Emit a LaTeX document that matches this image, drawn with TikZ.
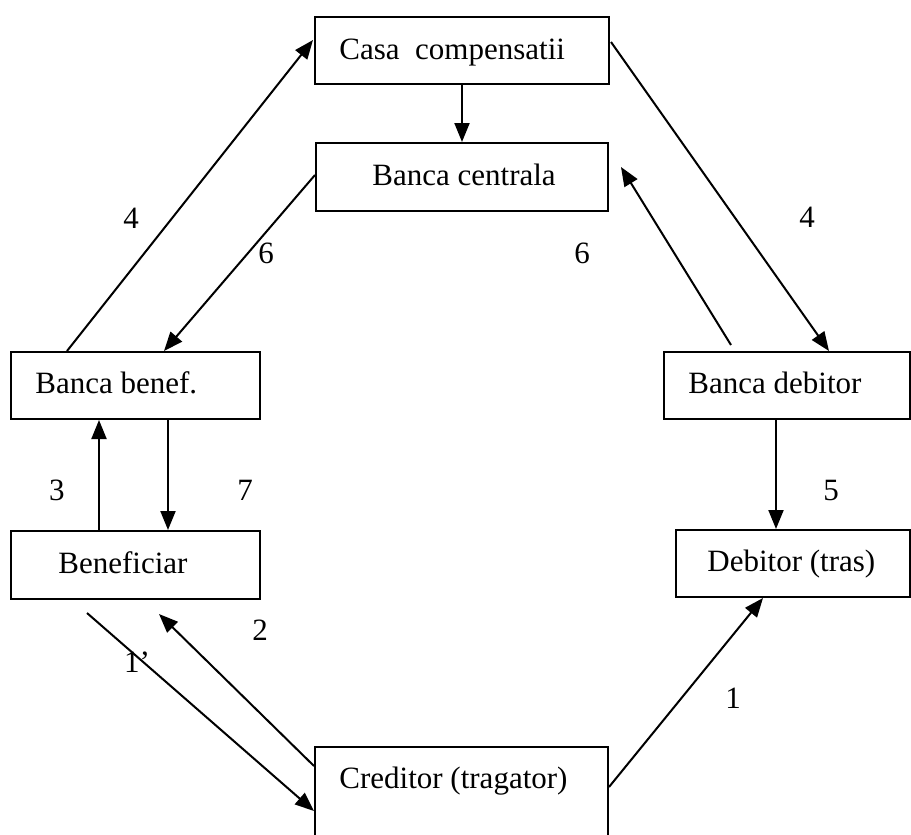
\documentclass[tikz,border=0pt]{standalone}
\usepackage{fontspec}
\setmainfont{Liberation Serif}
\usetikzlibrary{arrows.meta,calc}
\begin{document}
\begin{tikzpicture}[x=0.5pt,y=-0.5pt,
  box/.style={draw=black,line width=1pt,rectangle,inner sep=0pt},
  txt/.style={anchor=base west,inner sep=0pt,font=\fontsize{15.5}{18}\selectfont},
  lbl/.style={inner sep=0pt,font=\fontsize{15.5}{18}\selectfont},
  arr/.style={line width=1pt,-{Triangle[length=9.5pt,width=7.5pt]}}]
\useasboundingbox (0,0) rectangle (911,835);
% boxes
\node[box,minimum width=147pt,minimum height=33.5pt] (casa) at (462,50.5) {};
\node[box,minimum width=146pt,minimum height=34pt] (central) at (462,177) {};
\node[box,minimum width=124.5pt,minimum height=33.5pt] (bbenef) at (135.5,385.5) {};
\node[box,minimum width=124.5pt,minimum height=34pt] (benef) at (135.5,565) {};
\node[box,minimum width=123pt,minimum height=33.5pt] (bdeb) at (787,385.5) {};
\node[box,minimum width=117pt,minimum height=33.5pt] (deb) at (793,563.5) {};
\node[box,minimum width=146.5pt,minimum height=47pt] (cred) at (461.5,794) {};
% texts
\node[txt] (casat) at (339,60) {Casa\ \ compensatii};
\node[txt] (centralt) at (372,185) {Banca centrala};
\node[txt] (bbeneft) at (35,393) {Banca benef.};
\node[txt] (beneft) at (58,573) {Beneficiar};
\node[txt] (bdebt) at (688,393) {Banca debitor};
\node[txt] (debt) at (707,571) {Debitor (tras)};
\node[txt] (credt) at (339,788) {Creditor (tragator)};
% connectors
\draw[arr] ($(bbenef.north west)+(57,0)$) -- ($(casa.west)+(-1,-10.5)$);
\draw[arr] (casa.south) -- (central.north);
\draw[arr] ($(casa.east)+(1,-8.5)$) -- ($(bdeb.north west)+(166,0)$);
\draw[arr] ($(central.west)+(0,-2)$) -- ($(bbenef.north west)+(154,0)$);
\draw[arr] ($(bdeb.north west)+(68,-6)$) -- ($(central.east)+(12,-10)$);
\draw[arr] ($(benef.north west)+(89,0)$) -- ($(bbenef.south west)+(89,0)$);
\draw[arr] ($(bbenef.south west)+(158,0)$) -- ($(benef.north west)+(158,0)$);
\draw[arr] ($(bdeb.south west)+(113,0)$) -- ($(deb.north west)+(101,0)$);
\draw[arr] ($(benef.south west)+(77,13)$) -- ($(cred.north west)+(0,65)$);
\draw[arr] ($(cred.north west)+(0,20)$) -- ($(benef.south west)+(149,14)$);
\draw[arr] ($(cred.north east)+(0,41)$) -- ($(deb.south west)+(88,0)$);
% labels
\node[lbl] (l4a) at (131,218) {4};
\node[lbl] (l6a) at (266,253) {6};
\node[lbl] (l4b) at (807,217) {4};
\node[lbl] (l6b) at (582,253) {6};
\node[lbl] (l3) at (57,490) {3};
\node[lbl] (l7) at (245,490) {7};
\node[lbl] (l5) at (831,490) {5};
\node[lbl] (l2) at (260,630) {2};
\node[lbl] (l1p) at (137,662) {1’};
\node[lbl] (l1) at (733,698) {1};
\end{tikzpicture}
\end{document}
